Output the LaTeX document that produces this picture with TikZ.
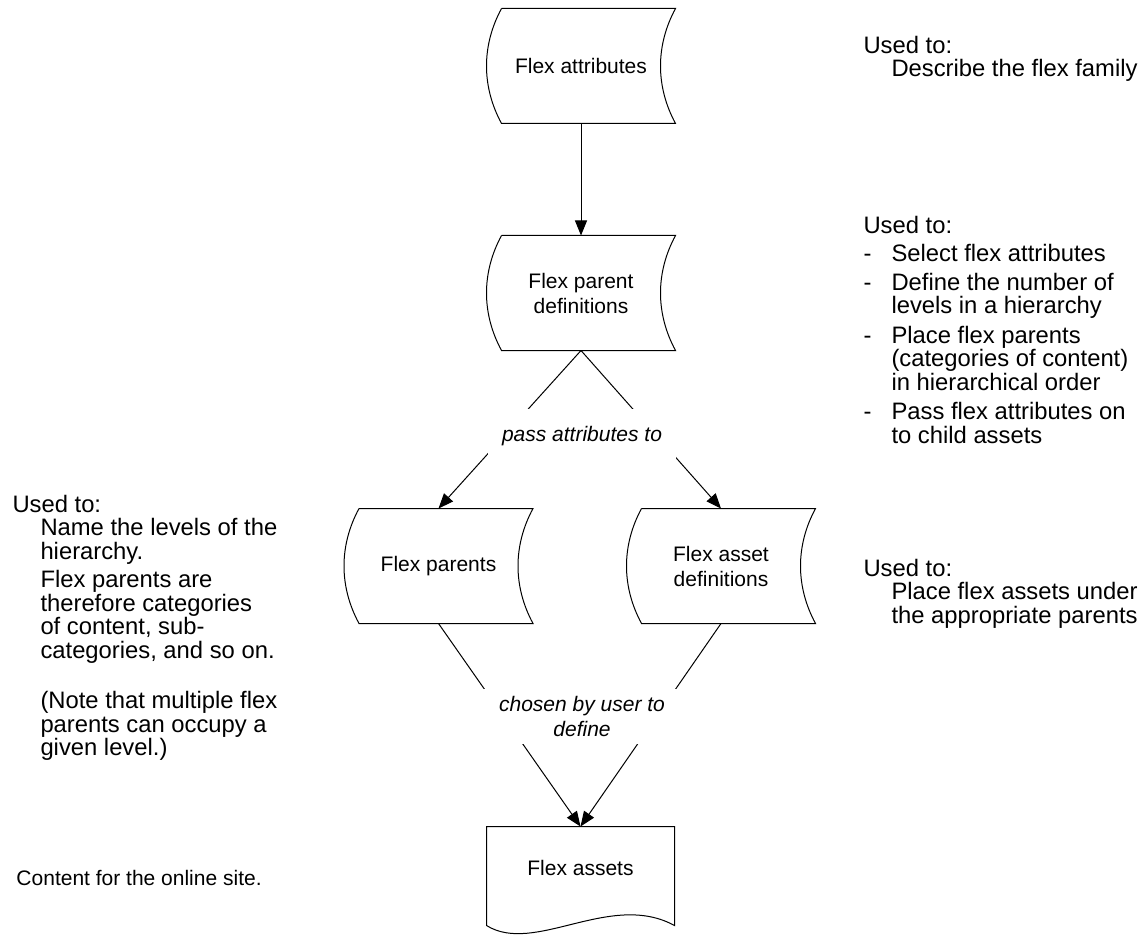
\documentclass[tikz,border=0pt]{standalone}
\usepackage{fontspec}
\setmainfont{Liberation Sans}
\usetikzlibrary{arrows.meta}

\newcommand\boxfont{\fontsize{10.5}{12.5}\selectfont}
\newcommand\notefont{\fontsize{11.9}{11.75}\selectfont}
\newcommand\itm{\makebox[14pt][l]{-}}
\newcommand\indt{\hspace*{14pt}}
\newcommand\drawstored[1]{\draw ([xshift=7.5pt]#1.north west)--(#1.north east)
	.. controls +(-20,37) and +(-20,-37) .. (#1.south east)
	--([xshift=7.5pt]#1.south west)
	.. controls +(-20,-37) and +(-20,37) .. ([xshift=7.5pt]#1.north west);}

\tikzset{
	stored/.style={minimum width=94pt,minimum height=57pt,inner sep=0pt,align=center,font=\boxfont},
	docbox/.style={minimum width=93.5pt,minimum height=41pt,inner sep=0pt,align=center,font=\boxfont},
	arr/.style={-{Triangle[length=7.5pt,width=6pt]}},
	flowlabel/.style={fill=white,inner sep=0pt,align=center,font=\boxfont\itshape},
	note/.style={anchor=north west,inner sep=0pt,align=left,font=\notefont}
}

\begin{document}
\begin{tikzpicture}[x=.5pt,y=-.5pt,line width=.5pt]
	\useasboundingbox (0,0) rectangle (1145,936);
	\node[stored] (attr) at (581,66){Flex attributes};
	\node[stored] (pdef) at (581,293){Flex parent\\definitions};
	\node[stored] (parents) at (438.5,566){Flex parents};
	\node[stored] (adef) at (721,566){Flex asset\\definitions};
	\node[docbox] (assets) at (580.5,868){Flex assets};
	\drawstored{attr}
	\drawstored{pdef}
	\drawstored{parents}
	\drawstored{adef}
	\draw (assets.north west)--([yshift=-8pt]assets.south west)
		.. controls +(48,30) and +(-64,-35) .. ([yshift=-8pt]assets.south east)
		--(assets.north east)--cycle;
	\draw[arr] (attr)--(pdef);
	\draw[arr] (pdef.south)--(parents.north);
	\draw[arr] (pdef.south)--(adef.north);
	\draw[arr] (parents.south)--(assets.north);
	\draw[arr] (adef.south)--(assets.north);
	\node[flowlabel,minimum width=94pt,minimum height=27pt] (pass) at (582,436){pass attributes to};
	\node[flowlabel,minimum width=102pt,minimum height=27.5pt] (chosen) at (582,716.5){chosen by user to\\define};
	\node[note] (noteattr) at (863,35.5){Used to:\\\indt Describe the flex family};
	\node[note] (notepdef) at (863,215.5){Used to:\\[2.5pt]
		\itm Select flex attributes\\[2.5pt]
		\itm Define the number of\\\indt levels in a hierarchy\\[3pt]
		\itm Place flex parents\\\indt (categories of content)\\\indt in hierarchical order\\[3pt]
		\itm Pass flex attributes on\\\indt to child assets};
	\node[note] (noteadef) at (863,558.5){Used to:\\\indt Place flex assets under\\\indt the appropriate parents};
	\node[note] (noteparents) at (12,494.5){Used to:\\\indt Name the levels of the\\\indt hierarchy.\\[2.5pt]
		\indt Flex parents are\\\indt therefore categories\\\indt of content, sub-\\\indt categories, and so on.\\[13.5pt]
		\indt (Note that multiple flex\\\indt parents can occupy a\\\indt given level.)};
	\node[note,anchor=base west,font=\boxfont] (noteassets) at (16,885){Content for the online site.};
\end{tikzpicture}
\end{document}
